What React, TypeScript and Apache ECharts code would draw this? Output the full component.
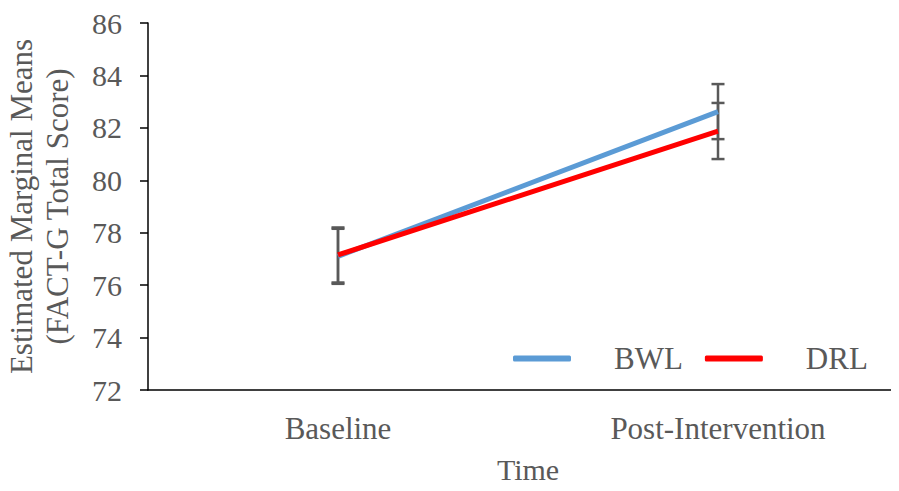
import React, { useEffect, useRef } from "react";
import * as echarts from "echarts";

const categories = ["Baseline", "Post-Intervention"];
const bwlMeans = [77.1, 82.62];
const drlMeans = [77.15, 81.88];
const bwlErr = [1.05, 1.05];
const drlErr = [1.05, 1.07];

const FONT = "Liberation Serif";
const GRAY = "#595959";

export default function App() {
  const ref = useRef<HTMLDivElement>(null);
  useEffect(() => {
    if (!ref.current) return;
    const chart = echarts.init(ref.current, null, { renderer: "svg" });
    const errData: number[][] = [];
    categories.forEach((_, i) => {
      errData.push([i, bwlMeans[i] - bwlErr[i], bwlMeans[i] + bwlErr[i]]);
      errData.push([i, drlMeans[i] - drlErr[i], drlMeans[i] + drlErr[i]]);
    });
    chart.setOption({
      animation: false,
      grid: { left: 148, top: 23, width: 760, height: 367, outerBoundsMode: "none", containLabel: false },
      legend: {
        data: ["BWL", "DRL"],
        left: 508,
        top: 338,
        itemWidth: 58,
        itemHeight: 6,
        itemGap: 22,
        icon: "roundRect",
        textStyle: { fontFamily: FONT, fontSize: 31, color: GRAY, padding: [0, 0, 0, 38] },
      },
      xAxis: {
        type: "category",
        data: categories,
        name: "Time",
        nameLocation: "middle",
        nameGap: 64,
        nameTextStyle: { fontFamily: FONT, fontSize: 30, color: GRAY },
        axisLine: { lineStyle: { color: "#000", width: 1.5 } },
        axisTick: { show: false },
        axisLabel: { fontFamily: FONT, fontSize: 31, color: GRAY, margin: 23 },
      },
      yAxis: {
        type: "value",
        min: 72,
        max: 86,
        interval: 2,
        name: "Estimated Marginal Means\n(FACT-G Total Score)",
        nameLocation: "middle",
        nameRotate: 90,
        nameGap: 73,
        nameTextStyle: { fontFamily: FONT, fontSize: 31, color: GRAY, lineHeight: 36 },
        axisLine: { show: true, lineStyle: { color: "#000", width: 1.5 } },
        axisTick: { show: true, length: 8, lineStyle: { color: "#000", width: 1.5 } },
        splitLine: { show: false },
        axisLabel: { fontFamily: FONT, fontSize: 30, color: GRAY, margin: 26 },
      },
      series: [
        {
          type: "custom",
          name: "err",
          z: 1,
          renderItem: (params: any, api: any) => {
            const x = api.value(0);
            const lo = api.coord([x, api.value(1)]);
            const hi = api.coord([x, api.value(2)]);
            const cap = 6.5;
            const style = { stroke: GRAY, lineWidth: 2.5 };
            return {
              type: "group",
              children: [
                { type: "line", shape: { x1: lo[0], y1: lo[1], x2: hi[0], y2: hi[1] }, style },
                { type: "line", shape: { x1: lo[0] - cap, y1: lo[1], x2: lo[0] + cap, y2: lo[1] }, style },
                { type: "line", shape: { x1: hi[0] - cap, y1: hi[1], x2: hi[0] + cap, y2: hi[1] }, style },
              ],
            };
          },
          data: errData,
          encode: { x: 0, y: [1, 2] },
        },
        {
          type: "line",
          name: "BWL",
          data: bwlMeans,
          symbol: "none",
          z: 3,
          lineStyle: { color: "#5B9BD5", width: 5 },
          itemStyle: { color: "#5B9BD5" },
        },
        {
          type: "line",
          name: "DRL",
          data: drlMeans,
          symbol: "none",
          z: 4,
          lineStyle: { color: "#FF0000", width: 5 },
          itemStyle: { color: "#FF0000" },
        },
      ],
    });
    return () => chart.dispose();
  }, []);
  return <div ref={ref} style={{ width: 899, height: 491, margin: -8 }} />;
}
